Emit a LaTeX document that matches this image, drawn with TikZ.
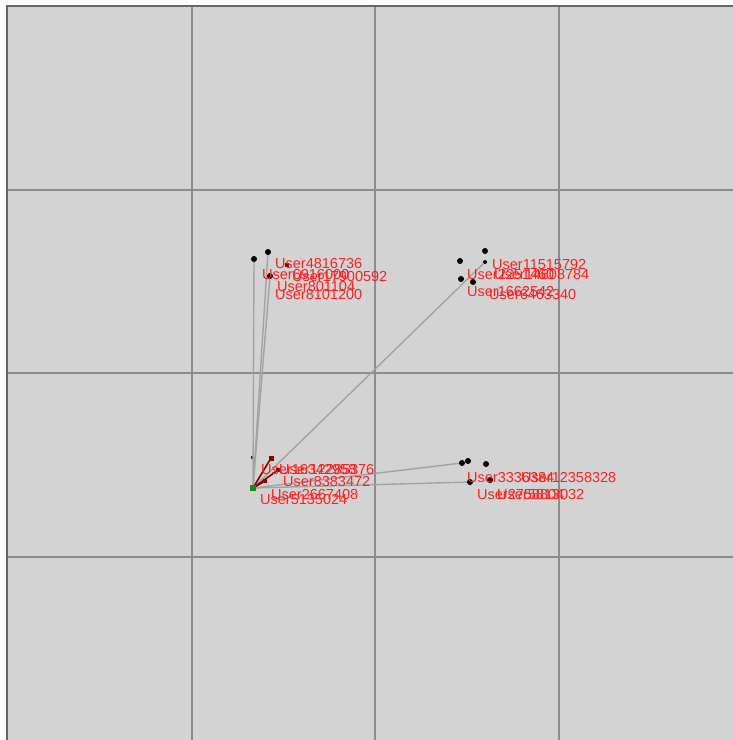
\documentclass[tikz,border=0pt]{standalone}
\usepackage{fontspec}
\setmainfont{Liberation Sans}
\definecolor{bg}{HTML}{D3D3D3}
\definecolor{gridc}{HTML}{8C8C8C}
\definecolor{edgec}{HTML}{A3A3A3}
\definecolor{darkr}{HTML}{8B0000}
\definecolor{lbl}{HTML}{FF2020}
\definecolor{nodeg}{HTML}{1A8A1A}
\tikzset{
  pt/.style={circle,fill=black,inner sep=0pt,minimum size=6pt},
  rpt/.style={rectangle,fill=darkr,inner sep=0pt,minimum size=5pt},
  center/.style={rectangle,fill=nodeg,inner sep=0pt,minimum size=6pt},
  lab/.style={anchor=base west,inner sep=0pt,text=lbl,font=\fontsize{14.5}{14.5}\selectfont},
  edge/.style={draw=edgec,line width=1.4pt},
  redge/.style={draw=darkr,line width=1.6pt},
  gridl/.style={draw=gridc,line width=1.3pt}
}
\begin{document}
\begin{tikzpicture}[x=1pt,y=-1pt]
\useasboundingbox (0,0) rectangle (733,740);
\fill[white] (0,0) rectangle (733,740);
\fill[bg] (7,6) rectangle (733,740);
% grid
\foreach \gx in {192,375,559} \draw[gridl] (\gx,6) -- (\gx,740);
\foreach \gy in {190,373,557} \draw[gridl] (7,\gy) -- (733,\gy);
\draw[draw=gray!80!black,line width=2pt] (7,740) -- (7,6) -- (733,6);
% nodes
\node[center] (c) at (253,488) {};
\node[pt] (a1) at (254,259) {};
\node[pt] (a2) at (268,252) {};
\node[pt] (a3) at (270,276) {};
\node[rpt,minimum size=4pt] (a4) at (287,265) {};
\node[pt] (b1) at (460,261) {};
\node[pt] (b2) at (485,251) {};
\node[pt,minimum size=4pt] (b3) at (485,262) {};
\node[pt] (b4) at (461,279) {};
\node[pt] (b5) at (473,282) {};
\node[pt] (d1) at (462,463) {};
\node[pt] (d2) at (468,461) {};
\node[pt] (d3) at (486,464) {};
\node[pt] (d4) at (470,482) {};
\node[pt] (d5) at (490,480) {};
\node[rpt,minimum size=3pt] (e1) at (252,457) {};
\node[rpt] (e2) at (271,458) {};
\node[rpt,minimum size=4pt] (e3) at (278,470) {};
\node[rpt,minimum size=4pt] (e4) at (265,481) {};
% edges
\draw[edge] (c.center) -- (a1);
\draw[edge] (c.center) -- (a2);
\draw[edge] (c.center) -- (a3);
\draw[edge] (c.center) -- (b3);
\draw[edge] (c.center) -- (d1);
\draw[edge] (c.center) -- (d4);
\draw[redge] (c.center) -- (e2);
\draw[redge] (c.center) -- (e3);
\draw[redge] (c.center) -- (e4);
\node[center] at (c) {};
% labels
\node[lab] (la1) at (275,268) {User4816736};
\node[lab] (la2) at (262,279) {User6916000};
\node[lab] (la3) at (292,281) {User17900592};
\node[lab] (la4) at (277,291) {User801104};
\node[lab] (la5) at (275,299) {User8101200};
\node[lab] (lb1) at (492,269) {User11515792};
\node[lab] (lb2) at (467,279) {User2251460};
\node[lab] (lb3) at (494,279) {User14608784};
\node[lab] (lb4) at (467,296) {User1662542};
\node[lab] (lb5) at (489,299) {User6463340};
\node[lab] (ld1) at (467,482) {User3336384};
\node[lab] (ld2) at (521,482) {User12358328};
\node[lab] (ld3) at (477,499) {User2758804};
\node[lab] (ld4) at (497,499) {User5813032};
\node[lab] (le1) at (261,474) {User16342958};
\node[lab] (le2) at (279,474) {User12285376};
\node[lab] (le3) at (283,486) {User8383472};
\node[lab] (le4) at (271,499) {User2667408};
\node[lab] (le5) at (260,504) {User5135024};
\end{tikzpicture}
\end{document}
